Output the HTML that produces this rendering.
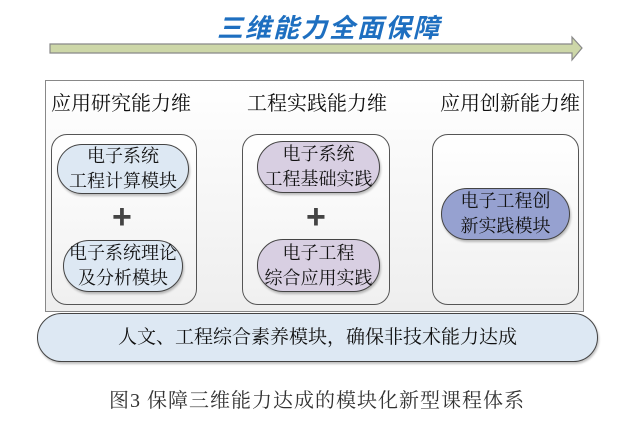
<!DOCTYPE html>
<html><head><meta charset="utf-8"><style>
body{margin:0;width:634px;height:432px;background:#fff;position:relative;overflow:hidden;font-family:"Liberation Serif","Noto Serif CJK SC",serif;color:#111}
.a{position:absolute;box-sizing:border-box}
.pill{border:1px solid #444;border-radius:26px;display:flex;align-items:center;justify-content:center;text-align:center;font-size:18px;line-height:25px;box-shadow:1px 2px 2px rgba(0,0,0,.25)}
.col{border:1px solid #555;border-radius:16px;background:linear-gradient(#fff,#f0f0f0)}
.h{font-size:20px;top:87px;white-space:nowrap}
.plus{font-family:"Liberation Sans",sans-serif;font-size:34px;font-weight:bold;color:#444;line-height:34px}
</style></head><body>
<div class="a" style="left:212px;top:8px;width:234px;text-align:center;font-family:'Noto Sans CJK SC',sans-serif;font-weight:700;font-style:italic;font-size:26px;letter-spacing:2px;color:#1e6fc0">三维能力全面保障</div>
<svg class="a" style="left:0;top:0" width="634" height="80"><polygon points="50,44 572,44 572,37 582,48 572,60 572,53 50,53" fill="#cdd7a8" stroke="#888" stroke-width="1.2"/></svg>
<div class="a" style="left:45px;top:80px;width:539px;height:232px;border:1px solid #888;background:linear-gradient(#fff,#eee)"></div>
<div class="a h" style="left:51px">应用研究能力维</div>
<div class="a h" style="left:247px">工程实践能力维</div>
<div class="a h" style="left:440px">应用创新能力维</div>
<div class="a col" style="left:51px;top:134px;width:146px;height:171px"></div>
<div class="a col" style="left:242px;top:134px;width:148px;height:171px"></div>
<div class="a col" style="left:432px;top:134px;width:147px;height:171px"></div>
<div class="a pill" style="left:57px;top:144px;width:132px;height:50px;background:#dde8f3">电子系统<br>工程计算模块</div>
<div class="a pill" style="left:63px;top:240px;width:120px;height:52px;background:#dde8f3">电子系统理论<br>及分析模块</div>
<div class="a pill" style="left:257px;top:141px;width:123px;height:52px;background:#d8cfe2">电子系统<br>工程基础实践</div>
<div class="a pill" style="left:257px;top:239px;width:123px;height:53px;background:#d8cfe2">电子工程<br>综合应用实践</div>
<div class="a pill" style="left:441px;top:188px;width:129px;height:52px;background:#96a1d0">电子工程创<br>新实践模块</div>
<div class="a plus" style="left:112px;top:200px">+</div>
<div class="a plus" style="left:306px;top:200px">+</div>
<div class="a pill" style="left:37px;top:313px;width:561px;height:49px;background:#dde8f3;font-size:19px">人文、工程综合素养模块，确保非技术能力达成</div>
<div class="a" style="left:0;top:384px;width:634px;text-align:center;font-size:20px;letter-spacing:1px;color:#333">图3 保障三维能力达成的模块化新型课程体系</div>
</body></html>
